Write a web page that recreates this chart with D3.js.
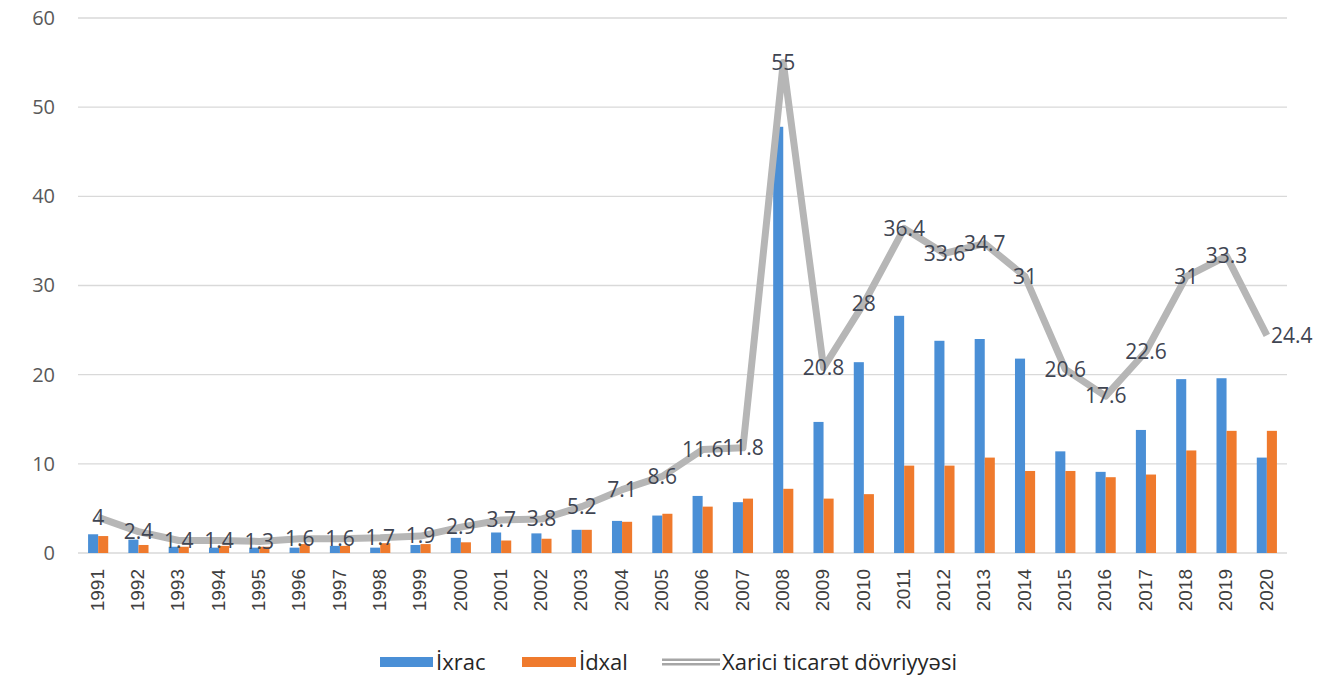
<!DOCTYPE html>
<html>
<head>
<meta charset="utf-8">
<script src="https://cdn.jsdelivr.net/npm/d3@7"></script>
<style>
  body { margin: 0; background: #fff; }
  svg { display: block; }
</style>
</head>
<body>
<svg id="chart" width="1318" height="678"></svg>
<script>
const years = ["1991","1992","1993","1994","1995","1996","1997","1998","1999","2000",
  "2001","2002","2003","2004","2005","2006","2007","2008","2009","2010",
  "2011","2012","2013","2014","2015","2016","2017","2018","2019","2020"];
const ixrac = [2.1,1.5,0.7,0.6,0.6,0.6,0.8,0.6,0.9,1.7,
  2.3,2.2,2.6,3.6,4.2,6.4,5.7,47.8,14.7,21.4,
  26.6,23.8,24.0,21.8,11.4,9.1,13.8,19.5,19.6,10.7];
const idxal = [1.9,0.9,0.7,0.8,0.7,1.0,0.8,1.1,1.0,1.2,
  1.4,1.6,2.6,3.5,4.4,5.2,6.1,7.2,6.1,6.6,
  9.8,9.8,10.7,9.2,9.2,8.5,8.8,11.5,13.7,13.7];
const dovriyye = [4,2.4,1.4,1.4,1.3,1.6,1.6,1.7,1.9,2.9,
  3.7,3.8,5.2,7.1,8.6,11.6,11.8,55,20.8,28,
  36.4,33.6,34.7,31,20.6,17.6,22.6,31,33.3,24.4];
const yTicks = [0,10,20,30,40,50,60];
const seriesNames = ["İxrac", "İdxal", "Xarici ticarət dövriyyəsi"];

const svg = d3.select("#chart"),
  margin = { top: 18, right: 31, bottom: 125, left: 78 },
  width = +svg.attr("width") - margin.left - margin.right,
  height = +svg.attr("height") - margin.top - margin.bottom;

const chart = svg.append("g")
  .attr("transform", `translate(${margin.left},${margin.top})`);

const x = d3.scaleBand().domain(years).range([0, width])
  .paddingInner(0.5).paddingOuter(0.25);
const xSub = d3.scaleBand().domain(["ixrac", "idxal"]).range([0, x.bandwidth()]);
const y = d3.scaleLinear().domain([0, 60]).range([height, 0]);

// gridlines
chart.append("g")
  .selectAll("line")
  .data(yTicks)
  .join("line")
  .attr("x1", 0)
  .attr("x2", width)
  .attr("y1", (d) => y(d))
  .attr("y2", (d) => y(d))
  .attr("stroke", "#d9d9d9")
  .attr("stroke-width", 1.3);

// y axis labels
const yAxis = chart.append("g")
  .call(d3.axisLeft(y).tickValues(yTicks).tickSize(0).tickPadding(23));
yAxis.select(".domain").remove();
yAxis.selectAll("text")
  .attr("font-family", "'Open Sans', sans-serif")
  .attr("font-size", 20)
  .attr("fill", "#595959");

// x axis labels
const xAxis = chart.append("g")
  .attr("transform", `translate(0,${height})`)
  .call(d3.axisBottom(x).tickSize(0).tickPadding(0));
xAxis.select(".domain").remove();
xAxis.selectAll("text")
  .attr("font-family", "'Liberation Sans', Arial, sans-serif")
  .attr("font-size", 19)
  .attr("fill", "#404040")
  .attr("text-anchor", "end")
  .attr("dy", "0.35em")
  .attr("transform", "translate(-1,16) rotate(-90)")
  .attr("x", 0)
  .attr("y", 0);

// bars
const groups = chart.append("g")
  .selectAll("g")
  .data(years)
  .join("g")
  .attr("transform", (d) => `translate(${x(d)},0)`);

groups.append("rect")
  .attr("x", xSub("ixrac"))
  .attr("y", (d, i) => y(ixrac[i]))
  .attr("width", xSub.bandwidth())
  .attr("height", (d, i) => height - y(ixrac[i]))
  .attr("fill", "#4a8fd6");

groups.append("rect")
  .attr("x", xSub("idxal"))
  .attr("y", (d, i) => y(idxal[i]))
  .attr("width", xSub.bandwidth())
  .attr("height", (d, i) => height - y(idxal[i]))
  .attr("fill", "#ef7a2d");

// total line
const line = d3.line()
  .x((d, i) => x(years[i]) + x.bandwidth() / 2)
  .y((d) => y(d));

chart.append("path")
  .datum(dovriyye)
  .attr("fill", "none")
  .attr("stroke", "#b6b6b6")
  .attr("stroke-width", 7)
  .attr("stroke-linejoin", "round")
  .attr("d", line);

// data labels
chart.append("g")
  .selectAll("text")
  .data(dovriyye)
  .join("text")
  .attr("x", (d, i) => x(years[i]) + x.bandwidth() / 2 + (i === years.length - 1 ? 25 : 0))
  .attr("y", (d) => y(d))
  .attr("dy", "0.35em")
  .attr("text-anchor", "middle")
  .attr("font-family", "'Open Sans', sans-serif")
  .attr("font-size", 21)
  .attr("fill", "#3f4552")
  .text((d) => d);

// legend
const legend = svg.append("g").attr("font-family", "'Open Sans', sans-serif")
  .attr("font-size", 22).attr("fill", "#262626");
legend.append("rect").attr("x", 380).attr("y", 657).attr("width", 53).attr("height", 10).attr("fill", "#4a8fd6");
legend.append("text").attr("x", 436).attr("y", 662).attr("dy", "0.35em").text(seriesNames[0]);
legend.append("rect").attr("x", 522).attr("y", 657).attr("width", 54).attr("height", 10).attr("fill", "#ef7a2d");
legend.append("text").attr("x", 579).attr("y", 662).attr("dy", "0.35em").text(seriesNames[1]);
legend.append("line").attr("x1", 662).attr("x2", 720).attr("y1", 662).attr("y2", 662)
  .attr("stroke", "#a6a6a6").attr("stroke-width", 7);
legend.append("line").attr("x1", 662).attr("x2", 720).attr("y1", 662).attr("y2", 662)
  .attr("stroke", "#fff").attr("stroke-width", 2);
legend.append("text").attr("x", 722).attr("y", 662).attr("dy", "0.35em").text(seriesNames[2]);
</script>
</body>
</html>
